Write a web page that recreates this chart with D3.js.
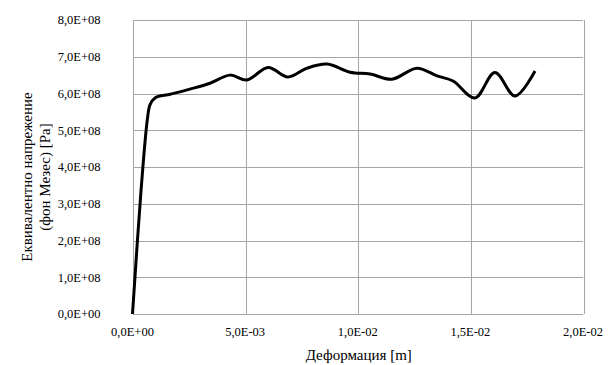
<html lang="bg">
<head>
    <meta charset="utf-8">
    <title>Stress - deformation</title>
    <script src="https://d3js.org/d3.v7.min.js"></script>
    <style type="text/css">
        body {
            margin: 0;
            background: #fff;
        }
        .grid line {
            stroke: #a6a6a6;
            stroke-width: 1px;
            shape-rendering: crispEdges;
        }
    </style>
</head>
<body>
<div id=chart>
    <script type="text/javascript">

        // deformation [m] and equivalent stress [Pa]
        var strain = [0, 0.00038, 0.00066, 0.00078, 0.00100, 0.00167, 0.00255, 0.00344, 0.00433, 0.00508,
            0.00602, 0.00690, 0.00775, 0.00864, 0.00966, 0.01055, 0.01152, 0.01263, 0.01352,
            0.01423, 0.01520, 0.01609, 0.01698, 0.01787];
        var stress = [0, 3.37e8, 5.30e8, 5.70e8, 5.88e8, 5.98e8, 6.12e8, 6.28e8, 6.50e8, 6.37e8,
            6.71e8, 6.45e8, 6.69e8, 6.80e8, 6.58e8, 6.53e8, 6.39e8, 6.69e8, 6.48e8,
            6.34e8, 5.88e8, 6.57e8, 5.93e8, 6.61e8];

        var xTicks = [0, 0.005, 0.01, 0.015, 0.02];
        var xTickLabels = ["0,0E+00", "5,0E-03", "1,0E-02", "1,5E-02", "2,0E-02"];
        var yTicks = [0, 1e8, 2e8, 3e8, 4e8, 5e8, 6e8, 7e8, 8e8];
        var yTickLabels = ["0,0E+00", "1,0E+08", "2,0E+08", "3,0E+08", "4,0E+08",
            "5,0E+08", "6,0E+08", "7,0E+08", "8,0E+08"];

        var xTitle = "Деформация [m]";
        var yTitle = ["Еквивалентно напрежение", "(фон Мезес) [Pa]"];

        var serif = "'Times New Roman', 'Liberation Serif', 'DejaVu Serif', serif";

        var width = 608, height = 365;
        var margin = {top: 20, right: 25, bottom: 51, left: 132.5};
        var plotW = width - margin.left - margin.right,
            plotH = height - margin.top - margin.bottom;

        var svg = d3.select("#chart").append("svg")
            .attr("width", width)
            .attr("height", height)
            .style("font-family", serif);

        var g = svg.append("g")
            .attr("transform", "translate(" + margin.left + "," + margin.top + ")");

        var x = d3.scaleLinear().domain([0, 0.02]).range([0, plotW]);
        var y = d3.scaleLinear().domain([0, 8e8]).range([plotH, 0]);

        // gridlines (also make the frame)
        var grid = g.append("g").attr("class", "grid");
        grid.selectAll(".h")
            .data(yTicks).enter().append("line")
            .attr("x1", 0).attr("x2", plotW)
            .attr("y1", function (d) { return Math.round(y(d)) + 0.5; })
            .attr("y2", function (d) { return Math.round(y(d)) + 0.5; });
        grid.selectAll(".v")
            .data(xTicks).enter().append("line")
            .attr("y1", 0).attr("y2", plotH)
            .attr("x1", function (d) { return Math.round(x(d)) + 0.5; })
            .attr("x2", function (d) { return Math.round(x(d)) + 0.5; });

        // tick labels
        g.selectAll(".ylab")
            .data(yTicks).enter().append("text")
            .style("font-family", serif)
            .style("font-size", "12.5px")
            .attr("x", -32)
            .attr("y", function (d) { return y(d); })
            .attr("dy", "0.35em")
            .attr("text-anchor", "end")
            .text(function (d, i) { return yTickLabels[i]; });

        g.selectAll(".xlab")
            .data(xTicks).enter().append("text")
            .style("font-family", serif)
            .style("font-size", "12.5px")
            .attr("x", function (d) { return x(d); })
            .attr("y", plotH + 18)
            .attr("dy", "0.35em")
            .attr("text-anchor", "middle")
            .text(function (d, i) { return xTickLabels[i]; });

        // axis titles
        svg.append("text")
            .style("font-family", serif)
            .style("font-size", "15px")
            .attr("x", margin.left + plotW / 2 + 1)
            .attr("y", 355)
            .attr("dy", "0.35em")
            .attr("text-anchor", "middle")
            .text(xTitle);

        var yt = svg.append("text")
            .style("font-family", serif)
            .style("font-size", "15px")
            .attr("transform", "translate(36,177) rotate(-90)")
            .attr("text-anchor", "middle");
        yt.selectAll("tspan")
            .data(yTitle).enter().append("tspan")
            .attr("x", 0)
            .attr("dy", function (d, i) { return i === 0 ? "-0.25em" : "1.15em"; })
            .text(function (d) { return d; });

        // the curve
        var pts = strain.map(function (s, i) { return [s, stress[i]]; });
        var line = d3.line()
            .x(function (d) { return x(d[0]); })
            .y(function (d) { return y(d[1]); })
            .curve(d3.curveCatmullRom.alpha(0.5));

        g.append("path")
            .datum(pts)
            .attr("fill", "none")
            .attr("stroke", "#000")
            .attr("stroke-width", 3)
            .attr("stroke-linejoin", "round")
            .attr("d", line);

    </script>
</div>
</body>
</html>
